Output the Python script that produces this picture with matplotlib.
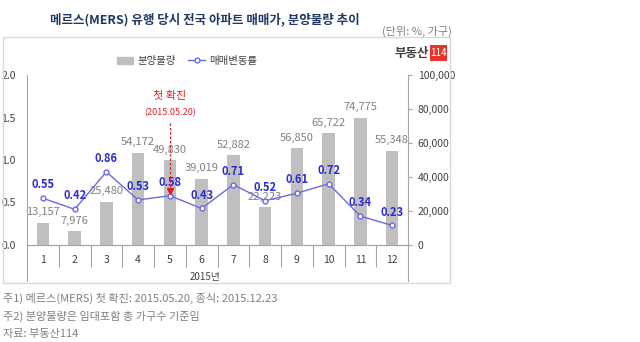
import matplotlib
matplotlib.use("Agg")
import matplotlib.pyplot as plt
from matplotlib.patches import Rectangle
from matplotlib.lines import Line2D

plt.rcParams['font.family'] = ['Noto Sans CJK KR', 'DejaVu Sans']

months = ["1", "2", "3", "4", "5", "6", "7", "8", "9", "10", "11", "12"]
supply = [13157, 7976, 25480, 54172, 49830, 39019, 52882, 22223, 56850, 65722, 74775, 55348]
price_change = [0.55, 0.42, 0.86, 0.53, 0.58, 0.43, 0.71, 0.52, 0.61, 0.72, 0.34, 0.23]
left_ticks = [0.0, 0.5, 1.0, 1.5, 2.0]
right_ticks = [0, 20000, 40000, 60000, 80000, 100000]

W, H = 640, 342
fig = plt.figure(figsize=(W / 100, H / 100), dpi=100)


def fx(px):
    return px / W


def fy(py):
    return 1 - py / H


# outer frame
fig.patches.append(Rectangle((fx(3), fy(283)), fx(447), (280 - 37 + 3) / H,
                             transform=fig.transFigure, fill=False,
                             edgecolor='#d9d9d9', lw=1))

ax = fig.add_axes([fx(27), fy(245), fx(408 - 27), (245 - 75) / H])
ax2 = ax.twinx()
ax.set_zorder(ax2.get_zorder() + 1)
ax.patch.set_visible(False)

x = list(range(len(months)))
bar_color = '#bfbfbf'
line_color = '#6a6ae0'
label_blue = '#2b2bd6'
gray_text = '#808080'

ax2.bar(x, supply, width=0.4, color=bar_color, zorder=2)
ax2.set_ylim(0, 100000)
ax2.set_yticks(right_ticks)
ax2.set_yticklabels([f"{v:,}" for v in right_ticks], fontsize=7.5, color='#404040')
for xi, v in zip(x, supply):
    ax2.annotate(f"{v:,}", (xi, v), xytext=(0, 4), textcoords='offset points',
                 ha='center', va='bottom', fontsize=8, color=gray_text)

ax.plot(x, price_change, color=line_color, lw=1, marker='o', markersize=3.5,
        markerfacecolor='white', markeredgecolor=line_color, markeredgewidth=1, zorder=5)
for xi, v in zip(x, price_change):
    ax.annotate(f"{v:.2f}", (xi, v), xytext=(0, 5), textcoords='offset points',
                ha='center', va='bottom', fontsize=8, color=label_blue,
                fontweight='bold', zorder=6)

ax.set_ylim(0, 2.0)
ax.set_xlim(-0.5, len(months) - 0.5)
ax.set_yticks(left_ticks)
ax.set_yticklabels([f"{v:.1f}" for v in left_ticks], fontsize=7.5, color='#404040')
ax.tick_params(axis='y', length=0, pad=8)
ax2.tick_params(axis='y', length=3, color='#a6a6a6', pad=4)

ax.set_xticks(x)
ax.set_xticklabels(months, fontsize=7.5, color='#404040')
ax.set_xticks([i + 0.5 for i in x[:-1]], minor=True)
ax.tick_params(axis='x', which='major', length=0, pad=7)
ax.tick_params(axis='x', which='minor', length=16, color='#a6a6a6', width=0.8)

for a in (ax, ax2):
    a.spines['top'].set_visible(False)
    for s in ('left', 'right', 'bottom'):
        a.spines[s].set_color('#a6a6a6')
        a.spines[s].set_linewidth(0.8)
ax.spines['right'].set_visible(False)
ax2.spines['left'].set_visible(False)

# extended category boundary lines
for px in (27, 408):
    fig.add_artist(Line2D([fx(px), fx(px)], [fy(245), fy(281)], color='#a6a6a6', lw=0.8))

fig.text(fx(205), fy(277), "2015년", fontsize=7, color='#404040', ha='center', va='center')

# first confirmed case marker
ax.plot([4, 4], [1.44, 0.67], color='#e02020', lw=0.9, ls=(0, (2, 1.5)), zorder=7)
ax.plot([4], [0.635], marker='v', color='#e02020', markersize=5, zorder=7)
ax.text(4, 1.76, "첫 확진", color='#e02020', fontsize=8, ha='center', va='center')
ax.text(4, 1.56, "(2015.05.20)", color='#e02020', fontsize=6.5, ha='center', va='center')

# legend
handles = [Rectangle((0, 0), 1, 1, color=bar_color),
           Line2D([], [], color=line_color, lw=1, marker='o', markersize=3.5,
                  markerfacecolor='white', markeredgecolor=line_color)]
fig.legend(handles, ["분양물량", "매매변동률"], loc='center',
           bbox_to_anchor=(fx(187), fy(61)), ncol=2, frameon=False, fontsize=7.5,
           handlelength=1.6, handletextpad=0.4, columnspacing=1.2, labelcolor='#404040')

# logo
fig.text(fx(429), fy(53), "부동산", fontsize=9, fontweight='bold', color='#404040',
         ha='right', va='center')
fig.patches.append(Rectangle((fx(430), fy(61)), fx(17), 16 / H, transform=fig.transFigure,
                             facecolor='#e8352a', edgecolor='none'))
fig.text(fx(438.5), fy(53), "114", fontsize=7, color='white', ha='center', va='center')

# title and unit
fig.text(fx(50), fy(20), "메르스(MERS) 유행 당시 전국 아파트 매매가, 분양물량 추이",
         fontsize=9, fontweight='bold', color='#1f3864', ha='left', va='center')
fig.text(fx(452), fy(31), "(단위: %, 가구)", fontsize=8, color='#808080',
         ha='right', va='center')

# notes
notes = ["주1) 메르스(MERS) 첫 확진: 2015.05.20, 종식: 2015.12.23",
         "주2) 분양물량은 임대포함 총 가구수 기준임",
         "자료: 부동산114"]
for i, n in enumerate(notes):
    fig.text(fx(3), fy(298 + 18 * i), n, fontsize=8, color='#808080', ha='left', va='center')

fig.savefig("out.png", dpi=100)
